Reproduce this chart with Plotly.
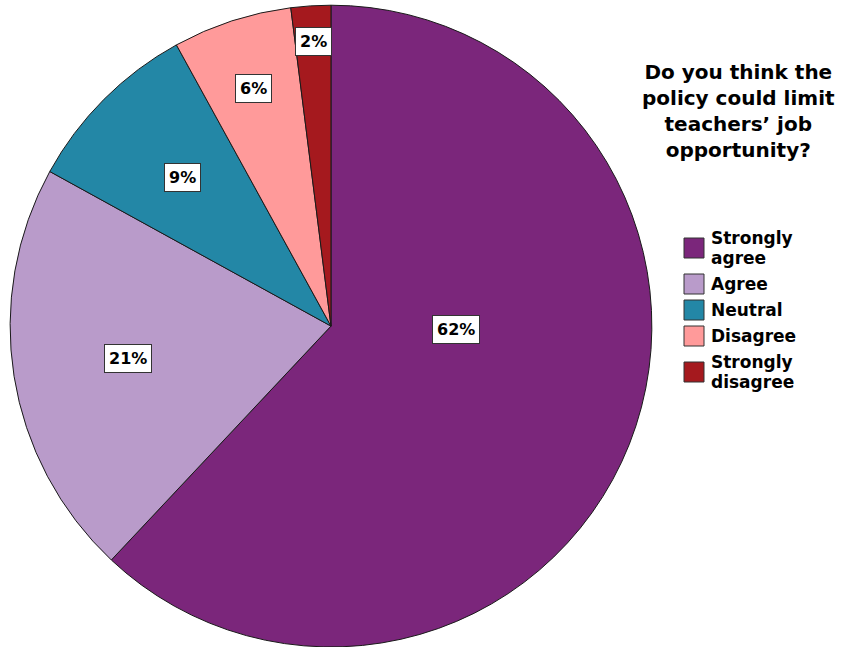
import math
import plotly.graph_objects as go

# Survey responses (percent of respondents)
categories = ["Strongly agree", "Agree", "Neutral", "Disagree", "Strongly disagree"]
legend_lines = [["Strongly", "agree"], ["Agree"], ["Neutral"], ["Disagree"], ["Strongly", "disagree"]]
percents = [62, 21, 9, 6, 2]
colors = ["#7b267b", "#b99bca", "#2387a6", "#ff9a9a", "#a5191e"]

title_text = "Do you think the<br>policy could limit<br>teachers’ job<br>opportunity?"

# Label placement: fraction of radius from the centre, and angle tweak (deg)
label_radius = [0.39, 0.64, 0.655, 0.78, 0.89]
label_angle_shift = [-20, 0, 0, 0, 0]

FONT = "DejaVu Sans, Verdana, sans-serif"
W, H = 849, 647
dom_x = [0.0119, 0.7678]
dom_y = [0.0, 0.992]

fig = go.Figure(
    go.Pie(
        labels=categories,
        values=percents,
        sort=False,
        direction="clockwise",
        rotation=0,
        marker=dict(colors=colors, line=dict(color="#1a1a1a", width=1)),
        textinfo="none",
        hoverinfo="label+percent",
        domain=dict(x=dom_x, y=dom_y),
        showlegend=False,
    )
)

# pie geometry in pixels (origin bottom-left)
cx_px = (dom_x[0] + dom_x[1]) / 2 * W
cy_px = (dom_y[0] + dom_y[1]) / 2 * H
r_px = min((dom_x[1] - dom_x[0]) * W, (dom_y[1] - dom_y[0]) * H) / 2

# boxed percentage labels inside each slice
total = sum(percents)
start = 0.0
for val, rf, shift in zip(percents, label_radius, label_angle_shift):
    mid = start + val / total * 360 / 2 + shift
    start += val / total * 360
    a = math.radians(mid)
    x = cx_px + rf * r_px * math.sin(a)
    y = cy_px + rf * r_px * math.cos(a)
    fig.add_annotation(
        x=x / W, y=y / H, xref="paper", yref="paper",
        xanchor="center", yanchor="middle",
        text=f"<b>{val}%</b>", showarrow=False,
        font=dict(family=FONT, size=16, color="black"),
        bgcolor="white", bordercolor="#333333", borderwidth=1, borderpad=4,
    )

# chart title beside the pie
fig.add_annotation(
    x=738 / W, y=1 - 111 / H, xref="paper", yref="paper",
    xanchor="center", yanchor="middle",
    text=f"<b>{title_text}</b>", showarrow=False, align="center",
    font=dict(family=FONT, size=20, color="black"),
)

# legend: colour swatch + bold label for each category
line_h, gap, sw = 20, 6, 20
y_top = 228
shapes = []
for lines, col in zip(legend_lines, colors):
    h = len(lines) * line_h
    yc = y_top + h / 2
    shapes.append(dict(
        type="rect", xref="paper", yref="paper",
        x0=684 / W, x1=(684 + sw) / W,
        y0=1 - (yc + sw / 2) / H, y1=1 - (yc - sw / 2) / H,
        fillcolor=col, line=dict(color="#333333", width=1),
    ))
    for i, txt in enumerate(lines):
        ly = y_top + line_h * (i + 0.5)
        fig.add_annotation(
            x=709 / W, y=1 - ly / H, xref="paper", yref="paper",
            xanchor="left", yanchor="middle",
            text=f"<b>{txt}</b>", showarrow=False,
            font=dict(family=FONT, size=17, color="black"),
        )
    y_top += h + gap

fig.update_layout(
    width=W, height=H,
    margin=dict(l=0, r=0, t=0, b=0),
    paper_bgcolor="white",
    plot_bgcolor="white",
    shapes=shapes,
)

fig.write_html("out.html")
